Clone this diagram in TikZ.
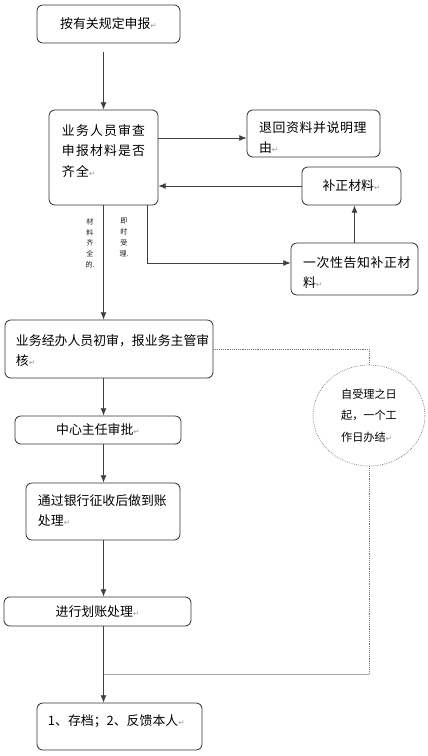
\documentclass[tikz,border=0pt]{standalone}
\usepackage{fontspec}
\setmainfont{Noto Sans CJK SC}
\newfontfamily\markfont{DejaVu Sans}
\usepackage{xcolor}
\usetikzlibrary{arrows.meta,positioning,calc,shapes.geometric}
\colorlet{flowLine}{black!75}
\colorlet{flowBorder}{black!80}
\colorlet{flowDots}{black!55}
\colorlet{flowMark}{black!40}
\newcommand{\boxfont}{\fontsize{11}{17.5}\selectfont}
\newcommand{\pmk}{{\markfont\fontsize{6.5}{6.5}\selectfont\textcolor{flowMark}{↵}}}
\tikzset{
  >=Latex,
  flowbox/.style={
    rounded corners=5pt,
    draw=flowBorder,
    line width=0.7pt,
    fill=white,
    font=\boxfont
  },
  midbox/.style={flowbox, align=center, inner sep=0pt},
  topbox/.style={flowbox, align=left, inner ysep=0pt},
  spaced/.style={font=\boxfont\addfontfeature{LetterSpace=#1}},
  arrow/.style={
    -{Latex[length=2.2mm,width=1.8mm]},
    line width=0.7pt,
    draw=flowLine
  },
  dotline/.style={densely dotted, line width=0.6pt, draw=flowDots},
  backline/.style={line width=0.7pt, draw=black!35},
  vlabel/.style={
    font=\fontsize{6}{9.3}\selectfont,
    align=center,
    inner sep=0pt,
    anchor=north,
    text=black!90
  },
  note/.style={
    ellipse,
    draw=flowDots,
    densely dotted,
    line width=0.6pt,
    minimum width=3.36cm,
    minimum height=3.03cm,
    inner sep=0pt,
    align=left,
    font=\fontsize{9.5}{18.3}\selectfont
  }
}

\begin{document}
\begin{tikzpicture}[x=0.03cm,y=-0.03cm]
\useasboundingbox (0,0) rectangle (428,756);

% main column
\node[midbox, minimum width=4.29cm, minimum height=1.14cm] (report) at (108.5,24) {按有关规定申报\pmk};
\node[topbox, spaced=9, inner xsep=0.39cm, text width=2.49cm, text height=0.75cm, text depth=2.10cm] (check) at (103.5,157.5)
{业务人员审查\\申报材料是否\\齐全\pmk};
\node[topbox, inner xsep=0.33cm, text width=5.58cm, text height=0.75cm, text depth=0.99cm] (firstcheck) at (109,349)
{业务经办人员初审，报业务主管审\\核\pmk};
\node[midbox, minimum width=4.98cm, minimum height=0.84cm] (director) at (98,430) {中心主任审批\pmk};
\node[topbox, inner xsep=0.36cm, text width=3.9cm, text height=0.66cm, text depth=1.05cm] (bank) at (103,511.5)
{通过银行征收后做到账\\处理\pmk};
\node[midbox, minimum width=5.61cm, minimum height=0.87cm] (transfer) at (97.5,611.5) {进行划账处理\pmk};
\node[topbox, inner xsep=0.33cm, text width=4.29cm, text height=0.66cm, text depth=0.75cm] (archive) at (119.5,726.5)
{1、存档；2、反馈本人\pmk};

% side branch
\node[topbox, spaced=5, inner xsep=0.36cm, text width=3.27cm, text height=0.66cm, text depth=0.75cm] (refuse) at (313.5,133.5)
{退回资料并说明理\\由\pmk};
\node[midbox, minimum width=2.97cm, minimum height=1.14cm] (supp) at (351.5,186) {补正材料\pmk};
\node[topbox, spaced=5, inner xsep=0.36cm, text width=3.09cm, text height=0.72cm, text depth=0.84cm] (notify) at (354.5,269)
{一次性告知补正材\\料\pmk};

\node[vlabel] (fullnote) at (90,218) {材\\料\\齐\\全\\的.};
\node[vlabel] (acceptnote) at (124,218) {即\\时\\受\\理.};

\node[note] (circ) at (369,415.5) {自受理之日\\起，一个工\\作日办结\pmk};

\coordinate (refusein) at ($(refuse.west)+(0,4.5)$);
\coordinate (notifyin) at ($(notify.west)+(0,-6)$);
\coordinate (checkout) at ($(check.south east)+(-11,0)$);
\coordinate (merge) at (103.5,674);

\draw[arrow, shorten <=0.27cm] (report.south -| check.north) -- (check.north);
\draw[arrow] (refusein -| check.east) -- (refusein);
\draw[arrow] (supp.west) -- (supp.west -| check.east);
\draw[arrow] (notify.north) -- (notify.north |- supp.south);
\draw[arrow] (checkout) |- (notifyin);
\draw[arrow] (check.south) -- (check.south |- firstcheck.north);
\draw[arrow] (firstcheck.south -| check.south) -- (director.north -| check.south);
\draw[arrow] (director.south -| check.south) -- (bank.north -| check.south);
\draw[arrow] (bank.south -| check.south) -- (transfer.north -| check.south);
\draw[arrow] (transfer.south -| check.south) -- (archive.north -| check.south);

% time limit note
\draw[dotline] (firstcheck.east) -| (circ.north);
\draw[dotline] (circ.south) -- (circ.south |- merge);
\draw[backline] (circ.south |- merge) -- (merge);

\end{tikzpicture}
\end{document}
